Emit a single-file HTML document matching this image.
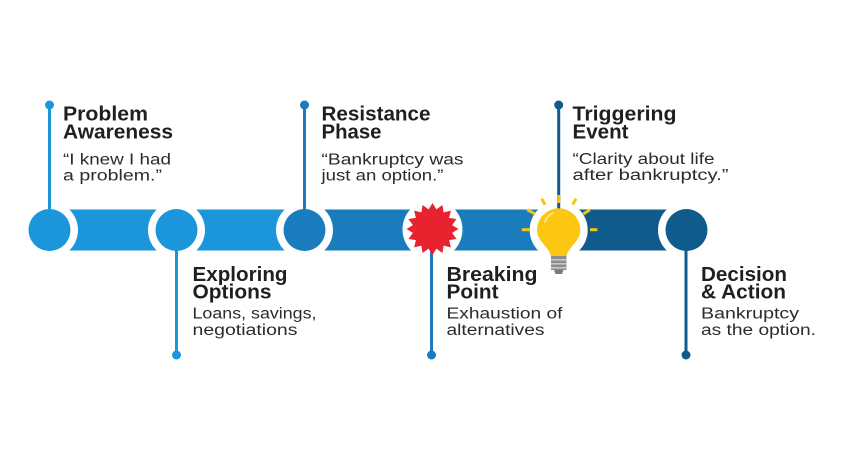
<!DOCTYPE html>
<html>
<head>
<meta charset="utf-8">
<style>
  html, body { margin: 0; padding: 0; background: #ffffff; }
  body { width: 846px; height: 461px; overflow: hidden; }
  svg { display: block; }
  .t { font-family: "Liberation Sans", Arial, sans-serif; font-weight: 700; font-size: 20.5px; fill: #1f1f1f; }
  .b { font-family: "Liberation Sans", Arial, sans-serif; font-weight: 400; font-size: 15.5px; fill: #2b2b2b; }
</style>
</head>
<body>
<svg width="846" height="461" viewBox="0 0 846 461" xmlns="http://www.w3.org/2000/svg">
  <rect x="0" y="0" width="846" height="461" fill="#ffffff"/>

  <!-- connector lines -->
  <g stroke-width="3">
    <line x1="49.5" y1="105" x2="49.5" y2="230" stroke="#1b96db"/>
    <line x1="176.5" y1="230" x2="176.5" y2="355" stroke="#1b96db"/>
    <line x1="304.5" y1="105" x2="304.5" y2="230" stroke="#1a7cbd"/>
    <line x1="431.5" y1="230" x2="431.5" y2="355" stroke="#1a7cbd"/>
    <line x1="558.7" y1="105" x2="558.7" y2="215" stroke="#0f5c8c"/>
    <line x1="686" y1="230" x2="686" y2="355" stroke="#0f5c8c"/>
  </g>
  <circle cx="49.5" cy="105" r="4.5" fill="#1b96db"/>
  <circle cx="176.5" cy="355" r="4.5" fill="#1b96db"/>
  <circle cx="304.5" cy="105" r="4.5" fill="#1a7cbd"/>
  <circle cx="431.5" cy="355" r="4.5" fill="#1a7cbd"/>
  <circle cx="558.7" cy="105" r="4.5" fill="#0f5c8c"/>
  <circle cx="686" cy="355" r="4.5" fill="#0f5c8c"/>

  <!-- bar -->
  <rect x="49.5" y="209.5" width="255" height="41" fill="#1b96db"/>
  <rect x="304.5" y="209.5" width="254.2" height="41" fill="#1a7cbd"/>
  <rect x="558.7" y="209.5" width="127.8" height="41" fill="#0f5c8c"/>

  <!-- white rings -->
  <circle cx="49.5" cy="230" r="28.5" fill="#ffffff"/>
  <circle cx="176.5" cy="230" r="28.5" fill="#ffffff"/>
  <circle cx="304.5" cy="230" r="28.5" fill="#ffffff"/>
  <circle cx="432.5" cy="229.5" r="30" fill="#ffffff"/>
  <circle cx="558.7" cy="230" r="29" fill="#ffffff"/>
  <circle cx="686.5" cy="230" r="28.5" fill="#ffffff"/>

  <!-- redraw connector stubs inside rings -->
  <line x1="49.5" y1="195" x2="49.5" y2="215" stroke="#1b96db" stroke-width="3"/>
  <line x1="176.5" y1="245" x2="176.5" y2="265" stroke="#1b96db" stroke-width="3"/>
  <line x1="304.5" y1="195" x2="304.5" y2="215" stroke="#1a7cbd" stroke-width="3"/>
  <line x1="431.5" y1="245" x2="431.5" y2="265" stroke="#1a7cbd" stroke-width="3"/>
  <line x1="558.7" y1="195" x2="558.7" y2="215" stroke="#0f5c8c" stroke-width="3"/>
  <line x1="686" y1="245" x2="686" y2="265" stroke="#0f5c8c" stroke-width="3"/>

  <!-- node circles -->
  <circle cx="49.5" cy="230" r="21" fill="#1b96db"/>
  <circle cx="176.5" cy="230" r="21" fill="#1b96db"/>
  <circle cx="304.5" cy="230" r="21" fill="#1a7cbd"/>
  <circle cx="686.5" cy="230" r="21" fill="#0f5c8c"/>

  <!-- starburst -->
  <polygon fill="#e8232f" points="432.5,203 436.4,209.38 442.45,204.98 443.61,212.37 450.88,210.62 449.13,217.89 456.52,219.05 452.12,225.1 458.5,229 452.12,232.9 456.52,238.95 449.13,240.11 450.88,247.38 443.61,245.63 442.45,253.02 436.4,248.62 432.5,255 428.6,248.62 422.55,253.02 421.39,245.63 414.12,247.38 415.87,240.11 408.48,238.95 412.88,232.9 406.5,229 412.88,225.1 408.48,219.05 415.87,217.89 414.12,210.62 421.39,212.37 422.55,204.98 428.6,209.38"/>

  <!-- bulb rays -->
  <g stroke="#f6c514" stroke-width="3">
    <line x1="558.7" y1="195" x2="558.7" y2="203"/>
    <line x1="541.7" y1="198.7" x2="545" y2="204.7"/>
    <line x1="576" y1="198.7" x2="572.7" y2="204.7"/>
    <line x1="527.3" y1="209.7" x2="535" y2="214"/>
    <line x1="590" y1="209.7" x2="583.3" y2="214"/>
    <line x1="521.7" y1="229.7" x2="530" y2="229.7"/>
    <line x1="590" y1="229.7" x2="597.3" y2="229.7"/>
  </g>

  <!-- bulb -->
  <path d="M537,230 A21.7,21.7 0 1 1 580.4,230 C580.4,241 568.5,247 566.5,256 L551,256 C549,247 537,241 537,230 Z" fill="#fcc713"/>
  <path d="M545,222 A15,15 0 0 1 553,213" stroke="#fde58a" stroke-width="2" fill="none" stroke-linecap="round"/>
  <rect x="551" y="256" width="15.5" height="14" fill="#8e8e8e"/>
  <rect x="551" y="259" width="15.5" height="1.6" fill="#c8c8c8"/>
  <rect x="551" y="263" width="15.5" height="1.6" fill="#c8c8c8"/>
  <rect x="551" y="267" width="15.5" height="1.6" fill="#c8c8c8"/>
  <path d="M554,270 L563.5,270 L562,274 L555.5,274 Z" fill="#7a7a7a"/>

  <!-- Block 1 -->
  <text class="t" x="63" y="120.5" textLength="85" lengthAdjust="spacingAndGlyphs">Problem</text>
  <text class="t" x="63" y="138.5" textLength="110" lengthAdjust="spacingAndGlyphs">Awareness</text>
  <text class="b" x="63" y="164.5" textLength="108" lengthAdjust="spacingAndGlyphs">“I knew I had</text>
  <text class="b" x="63" y="180.5" textLength="99" lengthAdjust="spacingAndGlyphs">a problem.”</text>

  <!-- Block 2 -->
  <text class="t" x="192.5" y="281" textLength="95" lengthAdjust="spacingAndGlyphs">Exploring</text>
  <text class="t" x="192.5" y="298.5" textLength="79" lengthAdjust="spacingAndGlyphs">Options</text>
  <text class="b" x="192.5" y="318.5" textLength="124" lengthAdjust="spacingAndGlyphs">Loans, savings,</text>
  <text class="b" x="192.5" y="335" textLength="105" lengthAdjust="spacingAndGlyphs">negotiations</text>

  <!-- Block 3 -->
  <text class="t" x="321.5" y="120.5" textLength="109" lengthAdjust="spacingAndGlyphs">Resistance</text>
  <text class="t" x="321.5" y="138.5" textLength="60" lengthAdjust="spacingAndGlyphs">Phase</text>
  <text class="b" x="321.5" y="164.5" textLength="142" lengthAdjust="spacingAndGlyphs">“Bankruptcy was</text>
  <text class="b" x="321.5" y="180.5" textLength="122" lengthAdjust="spacingAndGlyphs">just an option.”</text>

  <!-- Block 4 -->
  <text class="t" x="446.5" y="281" textLength="91" lengthAdjust="spacingAndGlyphs">Breaking</text>
  <text class="t" x="446.5" y="298.5" textLength="52" lengthAdjust="spacingAndGlyphs">Point</text>
  <text class="b" x="446.5" y="318.5" textLength="116" lengthAdjust="spacingAndGlyphs">Exhaustion of</text>
  <text class="b" x="446.5" y="335" textLength="98" lengthAdjust="spacingAndGlyphs">alternatives</text>

  <!-- Block 5 -->
  <text class="t" x="572.5" y="120.5" textLength="104" lengthAdjust="spacingAndGlyphs">Triggering</text>
  <text class="t" x="572.5" y="138.5" textLength="56" lengthAdjust="spacingAndGlyphs">Event</text>
  <text class="b" x="572.5" y="164" textLength="142" lengthAdjust="spacingAndGlyphs">“Clarity about life</text>
  <text class="b" x="572.5" y="180" textLength="156" lengthAdjust="spacingAndGlyphs">after bankruptcy.”</text>

  <!-- Block 6 -->
  <text class="t" x="701" y="281" textLength="86" lengthAdjust="spacingAndGlyphs">Decision</text>
  <text class="t" x="701" y="298.5" textLength="85" lengthAdjust="spacingAndGlyphs">&amp; Action</text>
  <text class="b" x="701" y="318.5" textLength="98" lengthAdjust="spacingAndGlyphs">Bankruptcy</text>
  <text class="b" x="701" y="335" textLength="115" lengthAdjust="spacingAndGlyphs">as the option.</text>
</svg>
</body>
</html>
